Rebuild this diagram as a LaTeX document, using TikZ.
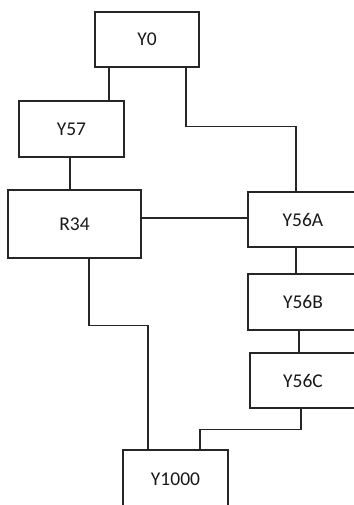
\documentclass[tikz,border=0pt]{standalone}
\usepackage{fontspec}
\setmainfont{Carlito}
\begin{document}
\begin{tikzpicture}[x=1pt,y=-1pt,
  box/.style={draw=black!85,line width=1.1pt,fill=white,inner sep=0pt,
    font=\fontsize{19.5}{22}\selectfont,text=black!90},
  conn/.style={draw=black!85,line width=1.1pt}]
\useasboundingbox (0,0) rectangle (353,505);
\fill[white] (0,0) rectangle (353,505);
\node[box,minimum width=104pt,minimum height=55pt] (Y0) at (147,39.5) {Y0};
\node[box,minimum width=105pt,minimum height=56pt] (Y57) at (71.5,129) {Y57};
\node[box,minimum width=133pt,minimum height=68pt] (R34) at (74.5,224) {R34};
\node[box,minimum width=110pt,minimum height=55pt] (Y56A) at (303,219.5) {Y56A};
\node[box,minimum width=110pt,minimum height=56pt] (Y56B) at (303,302) {Y56B};
\node[box,minimum width=106pt,minimum height=55pt] (Y56C) at (303,380.5) {Y56C};
\node[box,minimum width=105pt,minimum height=58pt] (Y1000) at (175.5,479) {Y1000};
% connectors
\draw[conn] ([xshift=-38pt]Y0.south) coordinate (a1) -- (a1 |- Y57.north);
\draw[conn] ([xshift=39pt]Y0.south) -- ++(0,59) -| ([xshift=-7pt]Y56A.north);
\draw[conn] ([xshift=-1.5pt]Y57.south) coordinate (a2) -- (a2 |- R34.north);
\draw[conn] ([yshift=6pt]R34.east) coordinate (a5) -- (a5 -| Y56A.west);
\draw[conn] ([xshift=-7pt]Y56A.south) coordinate (a3) -- (a3 |- Y56B.north);
\draw[conn] ([xshift=-4pt]Y56B.south) coordinate (a4) -- (a4 |- Y56C.north);
\draw[conn] ([xshift=14.5pt]R34.south) -- ++(0,67) -| ([xshift=-27.5pt]Y1000.north);
\draw[conn] ([xshift=-2pt]Y56C.south) -- ++(0,21) -| ([xshift=24.5pt]Y1000.north);
\end{tikzpicture}
\end{document}
